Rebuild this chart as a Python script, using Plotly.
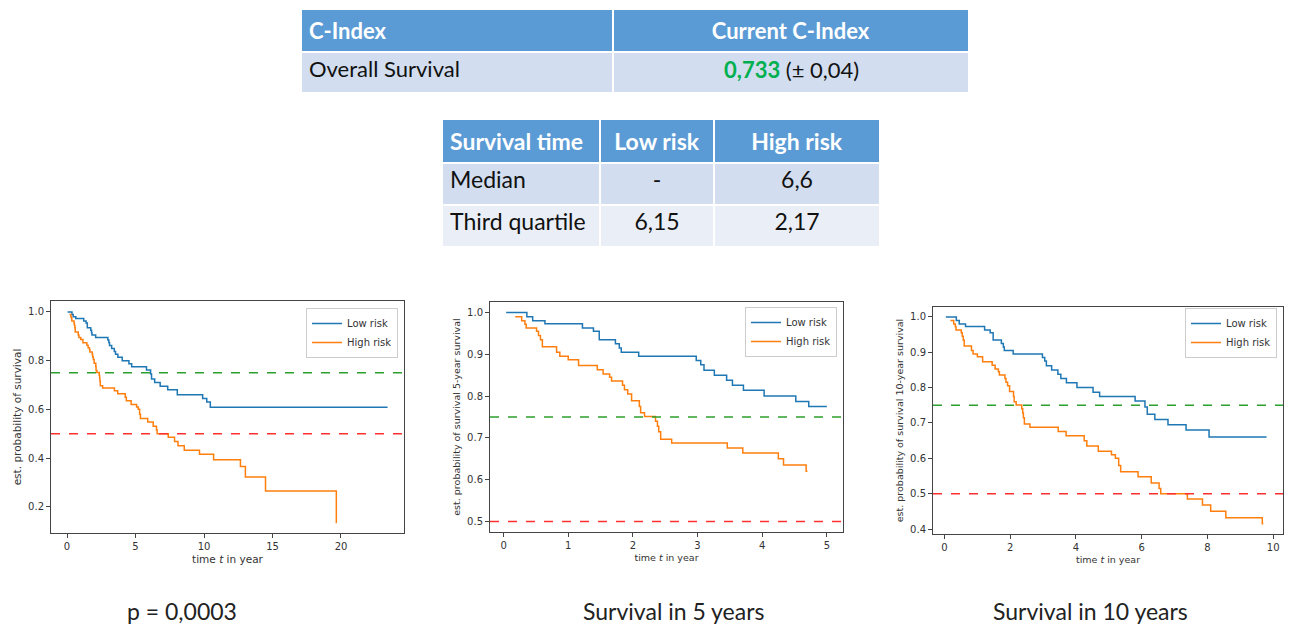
import plotly.graph_objects as go
from plotly.subplots import make_subplots

# ── Tables ──
cindex_header = ["C-Index", "Current C-Index"]
cindex_label = "Overall Survival"
cindex_value = "0,733"
cindex_err = "(± 0,04)"

surv_header = ["Survival time", "Low risk", "High risk"]
surv_rows = ["Median", "Third quartile"]
surv_low = ["-", "6,15"]
surv_high = ["6,6", "2,17"]

# ── Kaplan-Meier steps ──
low_t = [0.04, 0.36, 0.45, 0.64, 1.22, 1.39, 1.48, 1.73, 1.79, 1.82, 2.09, 2.98,
         3.05, 3.10, 3.26, 3.45, 3.54, 3.71, 4.03, 4.52, 4.72, 5.80, 6.10, 6.17,
         6.40, 6.80, 7.35, 8.05, 9.90, 10.20, 10.46]
low_s = [1.0, 0.99, 0.98, 0.973, 0.963, 0.955, 0.935, 0.925, 0.915, 0.905, 0.895, 0.885,
         0.875, 0.862, 0.85, 0.838, 0.826, 0.814, 0.80, 0.787, 0.775, 0.762, 0.745, 0.725,
         0.71, 0.695, 0.68, 0.66, 0.645, 0.63, 0.609]

high_t = [0.18, 0.28, 0.33, 0.35, 0.51, 0.54, 0.57, 0.60, 0.82, 0.87, 1.00, 1.16,
          1.45, 1.54, 1.64, 1.67, 1.84, 1.87, 1.92, 1.98, 2.10, 2.12, 2.18, 2.35,
          2.38, 2.40, 2.43, 2.60, 3.46, 3.70, 4.25, 4.33, 4.68, 5.08, 5.20, 5.30,
          5.36, 5.89, 6.29, 6.53, 6.58, 7.39, 7.85, 8.10, 8.56, 9.67, 10.70, 12.66,
          13.02, 14.49, 19.66]
high_s = [0.99, 0.98, 0.972, 0.963, 0.955, 0.945, 0.935, 0.918, 0.905, 0.895, 0.887, 0.873,
          0.863, 0.853, 0.845, 0.836, 0.826, 0.815, 0.805, 0.789, 0.775, 0.76, 0.751, 0.74,
          0.728, 0.715, 0.697, 0.688, 0.676, 0.664, 0.65, 0.635, 0.62, 0.61, 0.60, 0.58,
          0.562, 0.548, 0.53, 0.515, 0.50, 0.485, 0.468, 0.45, 0.432, 0.415, 0.393, 0.365,
          0.322, 0.265, 0.135]

# last observation time shown in each panel (all, 5-year, 10-year)
low_end = [23.4, 5.0, 9.8]
high_end = [19.7, 4.7, 9.7]

quartile_lines = [0.75, 0.5]
quartile_colors = ["#2ca02c", "#ff3030"]

y_titles = ["est. probability of survival",
            "est. probability of survival 5-year survival",
            "est. probability of survival 10-year survival"]
captions = ["p = 0,0003", "Survival in 5 years", "Survival in 10 years"]

x_ranges = [[-1.17, 24.6], [-0.21, 5.25], [-0.35, 10.3]]
y_ranges = [[0.092, 1.045], [0.475, 1.025], [0.386, 1.028]]
x_dticks = [5, 1, 2]
title_sizes = [10.5, 9.5, 9.5]

BLUE = "#1f77b4"
ORANGE = "#ff7f0e"
HEAD = "#5B9BD5"
BAND1 = "#D2DEEF"
BAND2 = "#EAEFF7"
FONT = "Lato, 'Open Sans', sans-serif"
MPL = "DejaVu Sans, sans-serif"
W, H = 1290, 625


def cut(ts, ss, end):
    xs = [t for t in ts if t <= end]
    ys = ss[:len(xs)]
    return xs + [end], ys + [ys[-1]]


fig = make_subplots(rows=1, cols=3)

# ── 三張 KM 曲線 ──
for i in range(3):
    leg = "legend" if i == 0 else f"legend{i + 1}"
    lx, ly = cut(low_t, low_s, low_end[i])
    hx, hy = cut(high_t, high_s, high_end[i])
    fig.add_trace(go.Scatter(x=lx, y=ly, mode="lines", line_shape="hv", name="Low risk",
                             line=dict(color=BLUE, width=1.5), legend=leg),
                  row=1, col=i + 1)
    fig.add_trace(go.Scatter(x=hx, y=hy, mode="lines", line_shape="hv", name="High risk",
                             line=dict(color=ORANGE, width=1.5), legend=leg),
                  row=1, col=i + 1)
    for yv, c in zip(quartile_lines, quartile_colors):
        fig.add_hline(y=yv, line=dict(color=c, width=1.5, dash="dash"), row=1, col=i + 1)

# ── 上方表格 ──
fig.add_trace(go.Table(
    domain=dict(x=[301 / W, 970 / W], y=[1 - 95 / H, 1 - 9 / H]),
    columnwidth=[312, 357],
    header=dict(values=[f"<b>{h}</b>" for h in cindex_header],
                align=["left", "center"], fill_color=HEAD, height=39,
                line=dict(color="white", width=2),
                font=dict(family=FONT, size=22, color="white")),
    cells=dict(values=[[cindex_label], [""]],
               align=["left", "center"], fill_color=BAND1, height=41,
               line=dict(color="white", width=2),
               font=dict(family=FONT, size=22, color="#111")),
))
fig.add_annotation(x=(613 + 970) / 2 / W, y=1 - 70 / H, xref="paper", yref="paper",
                   xanchor="center", yanchor="middle", showarrow=False,
                   text=f"<b><span style='color:#00B050'>{cindex_value}</span></b> {cindex_err}",
                   font=dict(family=FONT, size=22, color="#111"))

fig.add_trace(go.Table(
    domain=dict(x=[442 / W, 880 / W], y=[1 - 252 / H, 1 - 119 / H]),
    columnwidth=[158, 114, 166],
    header=dict(values=[f"<b>{h}</b>" for h in surv_header],
                align=["left", "center", "center"], fill_color=HEAD, height=41,
                line=dict(color="white", width=2),
                font=dict(family=FONT, size=23, color="white")),
    cells=dict(values=[surv_rows, surv_low, surv_high],
               align=["left", "center", "center"],
               fill_color=[[BAND1, BAND2]] * 3, height=42,
               line=dict(color="white", width=2),
               font=dict(family=FONT, size=23, color="#111")),
))

domains_x = [[51 / W, 404 / W], [490 / W, 843 / W], [933 / W, 1283 / W]]
domains_y = [[1 - 533 / H, 1 - 301 / H], [1 - 532 / H, 1 - 302 / H],
             [1 - 534 / H, 1 - 307 / H]]

axis_style = dict(showline=True, mirror=True, linecolor="#444", linewidth=1,
                  ticks="outside", ticklen=4, tickcolor="#444", showgrid=False,
                  zeroline=False, tickfont=dict(family=MPL, size=10, color="#333"))

for i in range(3):
    fig.update_xaxes(domain=domains_x[i], range=x_ranges[i], dtick=x_dticks[i], tick0=0,
                     title=dict(text="time <i>t</i> in year", standoff=4,
                                font=dict(family=MPL, size=title_sizes[i], color="#333")),
                     row=1, col=i + 1, **axis_style)
    fig.update_yaxes(domain=domains_y[i], range=y_ranges[i], dtick=0.1 if i else 0.2,
                     tickformat=".1f",
                     title=dict(text=y_titles[i], standoff=4,
                                font=dict(family=MPL, size=title_sizes[i], color="#333")),
                     row=1, col=i + 1, **axis_style)

legend_style = dict(xanchor="right", yanchor="top", bgcolor="white",
                    bordercolor="#ccc", borderwidth=1,
                    font=dict(family=MPL, size=10, color="#333"),
                    tracegroupgap=0, itemwidth=30)
legend_pos = [(398 / W, 1 - 308 / H), (837 / W, 1 - 307 / H), (1277 / W, 1 - 308 / H)]

fig.update_layout(
    width=W, height=H,
    margin=dict(l=0, r=0, t=0, b=0),
    paper_bgcolor="white", plot_bgcolor="white",
    legend=dict(x=legend_pos[0][0], y=legend_pos[0][1], **legend_style),
    legend2=dict(x=legend_pos[1][0], y=legend_pos[1][1], **legend_style),
    legend3=dict(x=legend_pos[2][0], y=legend_pos[2][1], **legend_style),
)

caption_x = [182 / W, 673 / W, 1090 / W]
for cx, txt in zip(caption_x, captions):
    fig.add_annotation(x=cx, y=1 - 611 / H, xref="paper", yref="paper", text=txt,
                       xanchor="center", yanchor="middle", showarrow=False,
                       font=dict(family=FONT, size=23, color="#222"))

fig.write_html("out.html", config={"displayModeBar": False},
               post_script="document.body.style.margin='0';")
